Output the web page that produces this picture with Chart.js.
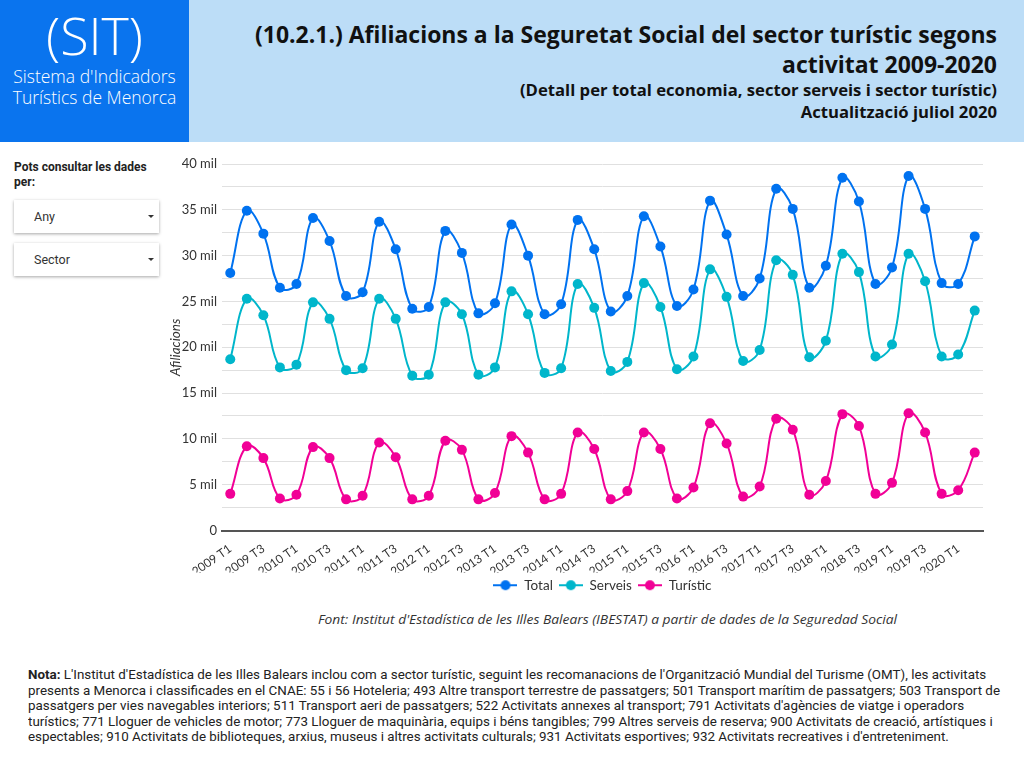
<!DOCTYPE html>
<html>
<head>
<meta charset="utf-8">
<script src="https://cdn.jsdelivr.net/npm/chart.js@4"></script>
<style>
  html,body{margin:0;padding:0;background:#fff;width:1024px;height:768px;overflow:hidden;font-family:Lato,"Open Sans",sans-serif;}
  #hdrL{position:absolute;left:0;top:0;width:189px;height:142px;background:#0A74EE;color:#fff;text-align:center;}
  #sit{position:absolute;left:0;width:189px;top:4px;font-family:"Open Sans",sans-serif;font-weight:300;font-size:52px;line-height:62px;}
  #sitsub{position:absolute;left:0;width:189px;top:66px;font-family:"Open Sans",sans-serif;font-weight:300;font-size:17.5px;line-height:21px;}
  #hdrR{position:absolute;left:189px;top:0;width:835px;height:142px;background:#BCDDF7;}
  #title{position:absolute;right:27px;top:19px;text-align:right;font-family:"Open Sans",sans-serif;font-weight:700;font-size:21px;line-height:30px;color:#111;white-space:nowrap;}
  #sub{position:absolute;right:27px;top:79px;text-align:right;font-family:"Open Sans",sans-serif;font-weight:700;font-size:15px;line-height:22px;color:#111;white-space:nowrap;}
  #pots{position:absolute;left:14px;top:160px;font-family:Roboto,sans-serif;font-weight:700;font-size:12px;line-height:15px;color:#222;width:150px;}
  .dd{position:absolute;left:14px;width:145px;height:33px;background:#fff;box-shadow:0 1px 3px rgba(0,0,0,0.35);font-family:Roboto,sans-serif;font-size:12.5px;color:#333;}
  .dd span{position:absolute;left:20px;top:9px;}
  .dd i{position:absolute;left:134px;top:15px;width:0;height:0;border-left:3px solid transparent;border-right:3px solid transparent;border-top:3px solid #333;}
  #wrap{position:absolute;left:160px;top:150px;width:840px;height:452px;}
  #src{position:absolute;left:318px;top:611px;font-family:"Open Sans",sans-serif;font-style:italic;font-size:12px;color:#333;white-space:nowrap;transform-origin:0 0;}
  #nota{position:absolute;left:28px;top:667px;font-family:Roboto,sans-serif;font-size:13px;line-height:15.5px;color:#222;white-space:nowrap;transform-origin:0 0;}
</style>
</head>
<body>
<div id="hdrL"><div id="sit">(SIT)</div><div id="sitsub">Sistema d'Indicadors<br>Turístics de Menorca</div></div>
<div id="hdrR"></div>
<div id="title">(10.2.1.) Afiliacions a la Seguretat Social del sector turístic segons<br>activitat 2009-2020</div>
<div id="sub">(Detall per total economia, sector serveis i sector turístic)<br>Actualització juliol 2020</div>
<div id="pots">Pots consultar les dades per:</div>
<div class="dd" style="top:200px"><span>Any</span><i></i></div>
<div class="dd" style="top:243px"><span>Sector</span><i></i></div>
<div id="wrap"><canvas id="c"></canvas></div>
<div id="src">Font: Institut d'Estadística de les Illes Balears (IBESTAT) a partir de dades de la Seguredad Social</div>
<div id="nota"><b>Nota:</b> L'Institut d'Estadística de les Illes Balears inclou com a sector turístic, seguint les recomanacions de l'Organització Mundial del Turisme (OMT), les activitats<br>presents a Menorca i classificades en el CNAE: 55 i 56 Hoteleria; 493 Altre transport terrestre de passatgers; 501 Transport marítim de passatgers; 503 Transport de<br>passatgers per vies navegables interiors; 511 Transport aeri de passatgers; 522 Activitats annexes al transport; 791 Activitats d'agències de viatge i operadors<br>turístics; 771 Lloguer de vehicles de motor; 773 Lloguer de maquinària, equips i béns tangibles; 799 Altres serveis de reserva; 900 Activitats de creació, artístiques i<br>espectables; 910 Activitats de biblioteques, arxius, museus i altres activitats culturals; 931 Activitats esportives; 932 Activitats recreatives i d'entreteniment.</div>
<script>
const years = [2009,2010,2011,2012,2013,2014,2015,2016,2017,2018,2019,2020];
const quarters = ['T1','T2','T3','T4'];
const categories = [];
years.forEach(y => quarters.forEach(q => { if (y < 2020 || q === 'T1' || q === 'T2') categories.push(y + ' ' + q); }));

const total = [28100,34900,32400,26500, 26900,34100,31600,25600, 26000,33700,30700,24200,
  24400,32700,30300,23700, 24800,33400,30000,23600, 24700,33900,30700,23900,
  25600,34300,31000,24500, 26300,36000,32300,25600, 27500,37300,35100,26500,
  28900,38500,35900,26900, 28700,38700,35100,27000, 26900,32100];
const serveis = [18700,25300,23500,17800, 18100,24900,23100,17500, 17700,25300,23100,16900,
  17000,24900,23600,17000, 17800,26100,23600,17200, 17700,26900,24300,17400,
  18400,27000,24400,17600, 19000,28500,25500,18500, 19700,29500,27900,18900,
  20700,30200,28200,19000, 20300,30200,27200,19000, 19200,24000];
const turistic = [4000,9200,7900,3500, 3900,9100,7900,3400, 3800,9600,8000,3400,
  3800,9800,8800,3400, 4100,10300,8500,3400, 4000,10700,8900,3400,
  4300,10700,8900,3500, 4700,11700,9500,3700, 4800,12200,11000,3900,
  5400,12700,11400,4000, 5200,12800,10700,4000, 4400,8500];
const yTicks = [0,5000,10000,15000,20000,25000,30000,35000,40000];

const COLORS = ['#0072F0','#00B6CB','#F10096'];

function fitFont(el, target){
  const w = el.getBoundingClientRect().width;
  const fs = parseFloat(getComputedStyle(el).fontSize);
  el.style.fontSize = (fs * target / w) + 'px';
}
function fitScale(el, target){
  el.style.transform = 'none';
  const w = el.getBoundingClientRect().width;
  el.style.transform = 'scaleX(' + (target / w) + ')';
}
function doFit(){
  fitFont(document.getElementById('title'), 742);
  fitFont(document.getElementById('sub'), 477);
  fitScale(document.getElementById('src'), 579);
  fitScale(document.getElementById('nota'), 972);
}
doFit();
if (document.fonts && document.fonts.ready) document.fonts.ready.then(doFit);

function legendIcon(color){
  const c = document.createElement('canvas');
  c.width = 24; c.height = 12;
  const g = c.getContext('2d');
  g.strokeStyle = color; g.lineWidth = 2;
  g.beginPath(); g.moveTo(0,6); g.lineTo(24,6); g.stroke();
  g.fillStyle = color; g.beginPath(); g.arc(12,6,5,0,Math.PI*2); g.fill();
  return c;
}

function ds(label, data, color){
  return {label, data, borderColor: color, backgroundColor: color, borderWidth: 2,
    pointRadius: 5, pointHoverRadius: 5, pointBorderWidth: 0, tension: 0.4, fill: false};
}

Chart.defaults.color = '#444';
const FONT = "Lato, 'Open Sans', sans-serif";

new Chart(document.getElementById('c'), {
  type: 'line',
  data: { labels: categories, datasets: [ds('Total', total, COLORS[0]), ds('Serveis', serveis, COLORS[1]), ds('Turístic', turistic, COLORS[2])] },
  options: {
    responsive: true, maintainAspectRatio: false, animation: false,
    layout: { padding: { top: 14, right: 17, left: 0, bottom: 0 } },
    plugins: {
      tooltip: { enabled: false },
      legend: {
        position: 'bottom', fullSize: false,
        labels: {
          usePointStyle: true, pointStyleWidth: 24, padding: 6,
          font: { size: 13.5, family: FONT }, color: '#333',
          generateLabels: (chart) => chart.data.datasets.map((d, i) => ({
            text: d.label, pointStyle: legendIcon(d.borderColor), fillStyle: d.borderColor,
            strokeStyle: d.borderColor, lineWidth: 0, datasetIndex: i, hidden: false, fontColor: '#333'
          }))
        }
      }
    },
    scales: {
      x: {
        offset: true,
        grid: { display: false },
        border: { display: true, color: '#555', width: 2 },
        ticks: {
          autoSkip: false, minRotation: 35, maxRotation: 35, padding: 3,
          font: { size: 12, family: FONT }, color: '#333',
          callback: function(v, i){ return i % 2 === 0 ? categories[i] : ''; }
        },
        afterFit: (s) => { s.height = 42; }
      },
      y: {
        min: 0, max: 40000,
        border: { display: false },
        grid: { color: '#E0E0E0', drawTicks: false, lineWidth: 1 },
        ticks: {
          stepSize: 2500, padding: 5,
          font: { size: 13, family: FONT }, color: '#333',
          callback: function(v){ if (!yTicks.includes(v)) return ''; return v === 0 ? '0' : (v/1000) + ' mil'; }
        },
        title: { display: true, text: 'Afiliacions', font: { size: 13.5, style: 'italic', family: FONT }, color: '#333', padding: { top: 8, bottom: 0 } },
        afterFit: (s) => { s.width = 62; }
      }
    }
  }
});
</script>
</body>
</html>
